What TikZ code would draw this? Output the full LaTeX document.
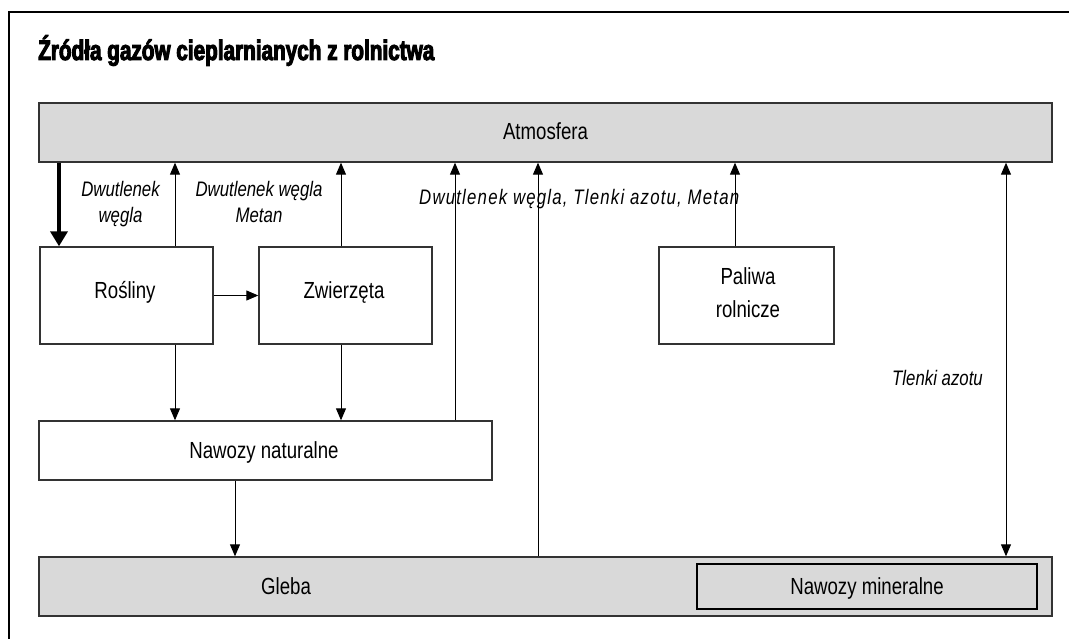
\documentclass[tikz,border=0pt]{standalone}
\usepackage{fontspec}
\setmainfont{Liberation Sans}[FakeStretch=0.8]
\newfontfamily\titlefont{Liberation Sans Bold}[FakeStretch=0.74,FakeBold=3.5]
\newfontfamily\lblfont{Liberation Sans Italic}[FakeStretch=0.8]
\usetikzlibrary{arrows.meta}
\definecolor{boxgray}{HTML}{D9D9D9}
\definecolor{edge}{HTML}{333333}
\tikzset{
  box/.style={draw=edge,line width=1.4pt,inner sep=0pt},
  graybox/.style={box,fill=boxgray},
  arr/.style={line width=1pt,-{Triangle[length=12pt,width=10pt]}},
  darr/.style={line width=1pt,{Triangle[length=12pt,width=10pt]}-{Triangle[length=12pt,width=10pt]}},
  thickarr/.style={line width=4pt,-{Triangle[length=15pt,width=17pt]}},
  txt/.style={font=\fontsize{23.3}{34}\selectfont,align=center,inner sep=0pt,anchor=base},
  lbl/.style={font=\lblfont\fontsize{21}{26}\selectfont,align=center,inner sep=0pt,anchor=base},
}
\begin{document}
\begin{tikzpicture}[x=1pt,y=-1pt]
\useasboundingbox (0,0) rectangle (1069,639);
% outer frame
\draw[line width=1.5pt] (1069,12) -- (9,12) -- (9,639);
\node[anchor=base west,inner sep=0pt,font=\titlefont\fontsize{28}{30}\selectfont] (title) at (38,60) {Źródła gazów cieplarnianych z rolnictwa};
% boxes
\node[graybox,minimum width=1013pt,minimum height=59pt] (atm) at (545.5,132.5) {};
\node[box,minimum width=173pt,minimum height=97pt] (ros) at (126.5,295.5) {};
\node[box,minimum width=173pt,minimum height=97pt] (zw) at (345.5,295.5) {};
\node[box,minimum width=175pt,minimum height=97pt] (pal) at (746.5,295.5) {};
\node[box,minimum width=453pt,minimum height=59pt] (nn) at (265.5,450.5) {};
\node[graybox,minimum width=1013pt,minimum height=59pt] (gl) at (545.5,586.5) {};
\node[graybox,draw=black,line width=1.2pt,minimum width=340pt,minimum height=45pt] (nm) at (867,586.5) {};
% box texts
\node[txt] (atmt) at (545.5,139.5) {Atmosfera};
\node[txt] (rost) at (125,298.5) {Rośliny};
\node[txt] (zwt) at (344,298.5) {Zwierzęta};
\node[txt] (palt) at (748,318) {Paliwa\\rolnicze};
\node[txt] (nnt) at (264,458.5) {Nawozy naturalne};
\node[txt] (glt) at (286,594) {Gleba};
\node[txt] (nmt) at (867,594) {Nawozy mineralne};
% x positions
\coordinate (x59) at (59,0);
\coordinate (x175) at (175,0);
\coordinate (x341) at (341,0);
\coordinate (x455) at (455,0);
\coordinate (x538) at (538,0);
\coordinate (x735) at (735,0);
\coordinate (x1006) at (1006,0);
\coordinate (x235) at (235,0);
% connectors
\draw[thickarr] (atm.south -| x59) -- (ros.north -| x59);
\draw[arr] (ros.north -| x175) -- (atm.south -| x175);
\draw[arr] (zw.north -| x341) -- (atm.south -| x341);
\draw[arr] (ros) -- (zw);
\draw[arr] (ros.south -| x175) -- (nn.north -| x175);
\draw[arr] (zw.south -| x341) -- (nn.north -| x341);
\draw[arr] (nn.north -| x455) -- (atm.south -| x455);
\draw[arr] (gl.north -| x538) -- (atm.south -| x538);
\draw[arr] (pal.north -| x735) -- (atm.south -| x735);
\draw[darr] (atm.south -| x1006) -- (gl.north -| x1006);
\draw[arr] (nn.south -| x235) -- (gl.north -| x235);
% labels
\node[lbl] (l1) at (120.5,223) {Dwutlenek\\węgla};
\node[lbl] (l2) at (259,223) {Dwutlenek węgla\\Metan};
\node[lbl,anchor=base west,font=\lblfont\fontsize{21}{26}\selectfont\addfontfeature{LetterSpace=5.7}] (l3) at (419,205) {Dwutlenek węgla, Tlenki azotu, Metan};
\node[lbl] (l4) at (937.5,385) {Tlenki azotu};
\end{tikzpicture}
\end{document}
